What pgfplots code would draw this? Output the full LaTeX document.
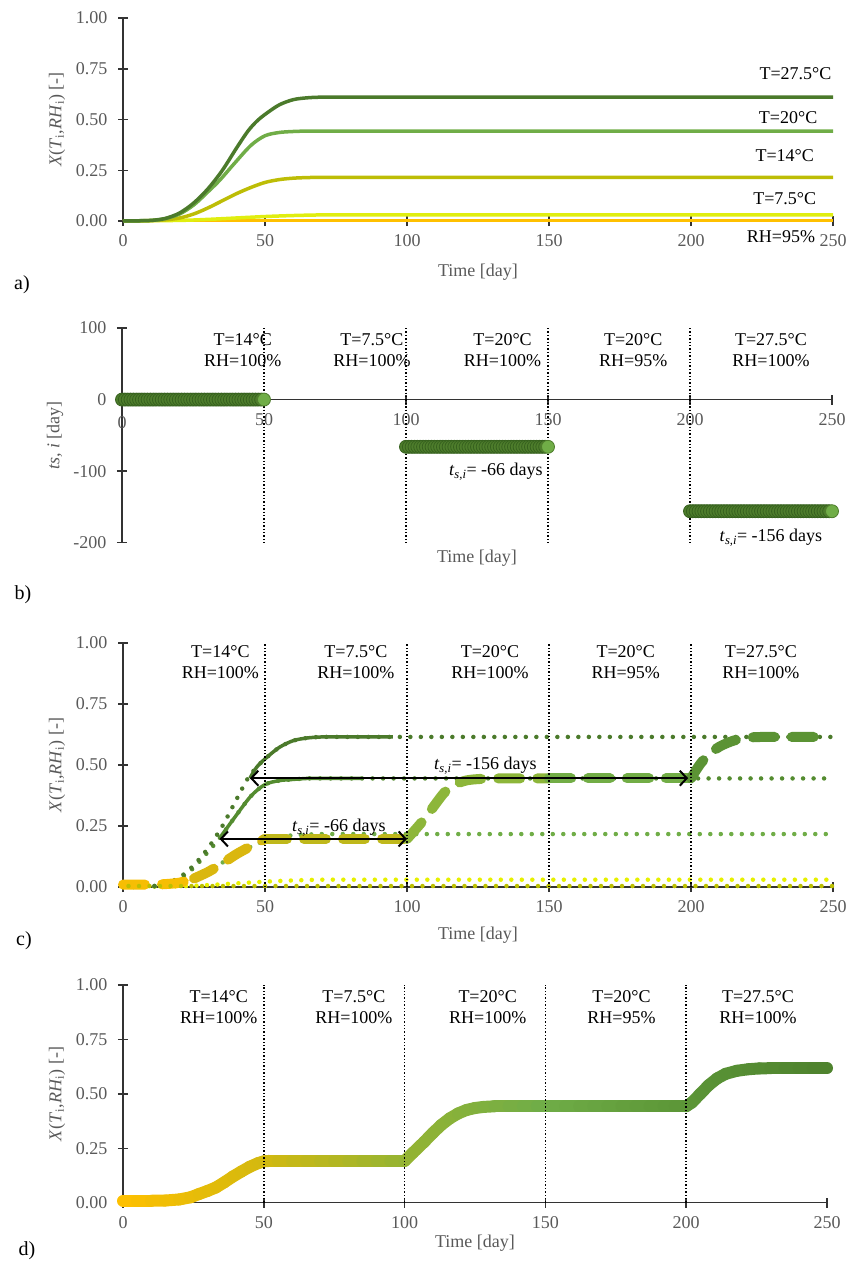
\documentclass[border=0pt]{standalone}
\usepackage{fontspec}
\setmainfont{Liberation Serif}
\usepackage{pgfplots}
\pgfplotsset{compat=1.18}
\usetikzlibrary{arrows.meta}
\definecolor{dkg}{HTML}{4B7A2B}
\definecolor{mdg}{HTML}{548C30}
\definecolor{mg}{HTML}{70AD47}
\definecolor{olv}{HTML}{BDBD06}
\definecolor{olv2}{HTML}{BCC000}
\definecolor{ylw}{HTML}{E0EE10}
\definecolor{ylw2}{HTML}{E6F000}
\definecolor{org}{HTML}{FFC000}
\definecolor{tickc}{HTML}{595959}
\definecolor{axl}{HTML}{333333}
\definecolor{mkf}{HTML}{4E7D2C}
\definecolor{mkd}{HTML}{36611E}
\definecolor{dA}{HTML}{F6BE04}
\definecolor{dB}{HTML}{DAB70F}
\definecolor{dC}{HTML}{BFB81B}
\definecolor{dD}{HTML}{8DB63A}
\definecolor{dE}{HTML}{72AD46}
\definecolor{dF}{HTML}{5B9334}
\newcommand{\fs}{\fontsize{18}{21}\selectfont}
\pgfplotsset{
  panel/.style={
    scale only axis, clip=false,
    axis x line=bottom, axis y line=left,
    axis line style={-, axl, line width=1.5pt},
    tick style={axl, line width=1.5pt},
    major tick length=10pt, tick align=center,
    xmin=0, xmax=250, xtick={0,50,100,150,200,250},
    /pgf/number format/assume math mode=true,
    tick label style={color=tickc, font=\fs},
    xticklabel style={yshift=-5pt},
    yticklabel style={xshift=-7pt},
    label style={color=tickc, font=\fs},
    xlabel={Time [day]},
  },
  xpanel/.style={
    ymin=0, ymax=1, ytick={0,0.25,0.5,0.75,1},
    yticklabel style={/pgf/number format/.cd, fixed, fixed zerofill, precision=2},
    ylabel={\textit{X}(\textit{T}\textsubscript{i},\textit{RH}\textsubscript{i}) [-]},
  },
  dotl/.style={line width=4.5pt, line cap=round, dash pattern=on 0pt off 10.5pt},
  vdot/.style={black, line width=1.6pt, dash pattern=on 1.4pt off 2pt},
  thd/.style={line width=10pt, line cap=round, dash pattern=on 22pt off 17pt},
  arr/.style={black, line width=2pt, {Straight Barb[length=7pt,width=15pt,line width=2pt]}-{Straight Barb[length=7pt,width=15pt,line width=2pt]}},
}
\begin{document}
\begin{tikzpicture}[font=\fs]
\path[use as bounding box] (0pt,0pt) rectangle (848pt,-1266pt);

% ---------------- a)
\begin{axis}[panel, xpanel, at={(123pt,-221pt)}, anchor=south west,
  width=710pt, height=203pt,
  xlabel style={at={(axis description cs:0.5,-0.251)}, anchor=center},
  ylabel style={at={(axis description cs:-0.093,0.5)}, anchor=center}]
\addplot[org, line width=3.5pt] coordinates {(0,0.002) (250,0.002)};
\addplot[ylw, line width=3.5pt, smooth] coordinates {(0,0) (20,0.003) (30,0.008) (40,0.015) (50,0.022) (60,0.027) (70,0.03) (80,0.03) (100,0.03) (125,0.03) (150,0.03) (175,0.03) (200,0.03) (225,0.03) (250,0.03)};
\addplot[olv, line width=3.5pt, smooth] coordinates {(0,0) (10,0.002) (15,0.006) (20,0.015) (25,0.035) (30,0.065) (35,0.1) (40,0.135) (45,0.165) (50,0.19) (55,0.204) (60,0.211) (65,0.214) (70,0.215) (80,0.215) (90,0.215) (100,0.215) (125,0.215) (150,0.215) (175,0.215) (200,0.215) (225,0.215) (250,0.215)};
\addplot[mg, line width=3.5pt, smooth] coordinates {(0,0) (10,0.003) (15,0.012) (20,0.035) (25,0.08) (30,0.145) (34,0.2) (39,0.28) (45,0.372) (50,0.42) (55,0.436) (60,0.441) (65,0.443) (70,0.443) (80,0.443) (90,0.443) (100,0.443) (125,0.443) (150,0.443) (175,0.443) (200,0.443) (225,0.443) (250,0.443)};
\addplot[dkg, line width=3.5pt, smooth] coordinates {(0,0) (5,0.001) (10,0.003) (15,0.013) (20,0.04) (25,0.09) (30,0.16) (35,0.25) (40,0.36) (44,0.443) (47,0.49) (50,0.525) (55,0.572) (60,0.598) (65,0.607) (70,0.61) (80,0.61) (90,0.61) (100,0.61) (125,0.61) (150,0.61) (175,0.61) (200,0.61) (225,0.61) (250,0.61)};
\node[anchor=east, inner sep=0pt] at (axis cs:249.5,0.724) {T=27.5°C};
\node at (axis cs:234.2,0.507) {T=20°C};
\node at (axis cs:233,0.32) {T=14°C};
\node at (axis cs:233,0.108) {T=7.5°C};
\node at (axis cs:231.7,-0.079) {RH=95\%};
\end{axis}
\node[font=\fontsize{20}{24}\selectfont] at (22pt,-285pt) {a)};

% ---------------- b)
\begin{axis}[panel, at={(122pt,-542.7pt)}, anchor=south west,
  width=710pt, height=214.7pt,
  axis x line=middle, axis y line=left,
  x axis line style={-}, y axis line style={-},
  every inner x axis line/.append style={-},
  ymin=-200, ymax=100, ytick={-200,-100,0,100},
  ylabel={\textit{ts, i} [day]},
  xlabel style={at={(axis description cs:0.5,-0.0713)}, anchor=center, color=tickc},
  ylabel style={at={(axis description cs:-0.0944,0.5)}, anchor=center, color=tickc}]
\addplot[only marks, mark=*, mark size=6.5pt, mark options={fill=mkf, draw=mkd, line width=0.8pt}] coordinates {
(0,0)(1,0)(2,0)(3,0)(4,0)(5,0)(6,0)(7,0)(8,0)(9,0)(10,0)(11,0)(12,0)(13,0)(14,0)(15,0)(16,0)(17,0)(18,0)(19,0)(20,0)(21,0)(22,0)(23,0)(24,0)(25,0)(26,0)(27,0)(28,0)(29,0)(30,0)(31,0)(32,0)(33,0)(34,0)(35,0)(36,0)(37,0)(38,0)(39,0)(40,0)(41,0)(42,0)(43,0)(44,0)(45,0)(46,0)(47,0)(48,0)(49,0)};
\addplot[only marks, mark=*, mark size=6.5pt, mark options={fill=mkf, draw=mkd, line width=0.8pt}] coordinates {
(100,-66)(101,-66)(102,-66)(103,-66)(104,-66)(105,-66)(106,-66)(107,-66)(108,-66)(109,-66)(110,-66)(111,-66)(112,-66)(113,-66)(114,-66)(115,-66)(116,-66)(117,-66)(118,-66)(119,-66)(120,-66)(121,-66)(122,-66)(123,-66)(124,-66)(125,-66)(126,-66)(127,-66)(128,-66)(129,-66)(130,-66)(131,-66)(132,-66)(133,-66)(134,-66)(135,-66)(136,-66)(137,-66)(138,-66)(139,-66)(140,-66)(141,-66)(142,-66)(143,-66)(144,-66)(145,-66)(146,-66)(147,-66)(148,-66)(149,-66)};
\addplot[only marks, mark=*, mark size=6.5pt, mark options={fill=mkf, draw=mkd, line width=0.8pt}] coordinates {
(200,-156)(201,-156)(202,-156)(203,-156)(204,-156)(205,-156)(206,-156)(207,-156)(208,-156)(209,-156)(210,-156)(211,-156)(212,-156)(213,-156)(214,-156)(215,-156)(216,-156)(217,-156)(218,-156)(219,-156)(220,-156)(221,-156)(222,-156)(223,-156)(224,-156)(225,-156)(226,-156)(227,-156)(228,-156)(229,-156)(230,-156)(231,-156)(232,-156)(233,-156)(234,-156)(235,-156)(236,-156)(237,-156)(238,-156)(239,-156)(240,-156)(241,-156)(242,-156)(243,-156)(244,-156)(245,-156)(246,-156)(247,-156)(248,-156)(249,-156)};
\addplot[only marks, mark=*, mark size=6.5pt, mark options={fill=mg, draw=mkf, line width=0.8pt}] coordinates {(50,0) (150,-66) (250,-156)};
\addplot[vdot] coordinates {(50,100) (50,-200)};
\addplot[vdot] coordinates {(100,100) (100,-200)};
\addplot[vdot] coordinates {(150,100) (150,-200)};
\addplot[vdot] coordinates {(200,100) (200,-200)};
\node[align=center, black] at (axis cs:42.5,68.5) {T=14°C\\RH=100\%};
\node[align=center, black] at (axis cs:88,68.5) {T=7.5°C\\RH=100\%};
\node[align=center, black] at (axis cs:134,68.5) {T=20°C\\RH=100\%};
\node[align=center, black] at (axis cs:180,68.5) {T=20°C\\RH=95\%};
\node[align=center, black] at (axis cs:228.5,68.5) {T=27.5°C\\RH=100\%};
\node[anchor=east, inner sep=0pt] at (axis cs:148.2,-100.7) {\textit{t}\textsubscript{\textit{s,i}}= -66 days};
\node at (axis cs:228.5,-193) {\textit{t}\textsubscript{\textit{s,i}}= -156 days};
\end{axis}
\node[color=tickc] at (122pt,-423pt) {0};
\node[font=\fontsize{20}{24}\selectfont] at (23pt,-595pt) {b)};

% ---------------- c)
\begin{axis}[panel, xpanel, at={(123pt,-887pt)}, anchor=south west,
  width=710pt, height=244pt,
  xlabel style={at={(axis description cs:0.5,-0.197)}, anchor=center},
  ylabel style={at={(axis description cs:-0.093,0.5)}, anchor=center}]
\addplot[ylw2, dotl, smooth] coordinates {(0,0) (20,0.003) (30,0.008) (40,0.015) (50,0.022) (60,0.027) (70,0.03) (80,0.03) (100,0.03) (125,0.03) (150,0.03) (175,0.03) (200,0.03) (225,0.03) (250,0.03)};
\addplot[mg, dotl, smooth] coordinates {(0,0) (10,0.002) (15,0.006) (20,0.015) (25,0.035) (30,0.065) (35,0.1) (40,0.135) (45,0.165) (50,0.19) (55,0.205) (60,0.212) (65,0.215) (70,0.217) (80,0.217) (90,0.217) (100,0.217) (125,0.217) (150,0.217) (175,0.217) (200,0.217) (225,0.217) (250,0.217)};
\addplot[mdg, dotl, smooth] coordinates {(0,0) (10,0.003) (15,0.012) (20,0.035) (25,0.08) (30,0.145) (34,0.2) (39,0.28) (45,0.372) (50,0.42) (55,0.436) (60,0.441) (65,0.445) (70,0.445) (80,0.445) (90,0.445) (100,0.445) (125,0.445) (150,0.445) (175,0.445) (200,0.445) (225,0.445) (250,0.445)};
\addplot[dkg, dotl, smooth] coordinates {(0,0) (5,0.001) (10,0.003) (15,0.013) (20,0.04) (25,0.09) (30,0.16) (35,0.25) (40,0.36) (44,0.446) (47,0.49) (50,0.525) (55,0.572) (60,0.6) (65,0.611) (70,0.615) (80,0.615) (90,0.615) (100,0.615) (125,0.615) (150,0.615) (175,0.615) (200,0.615) (225,0.615) (250,0.615)};
\addplot[mdg, line width=3.5pt, smooth] coordinates {(34,0.2) (39,0.28) (45,0.372) (50,0.42) (55,0.436) (60,0.441) (65,0.445) (70,0.445) (77,0.445) (84,0.445)};
\addplot[dkg, line width=3.5pt, smooth] coordinates {(44.7,0.446) (47,0.49) (50,0.525) (55,0.572) (60,0.6) (65,0.611) (70,0.615) (75,0.615) (80,0.615) (88,0.615) (95,0.615)};
% combined curve
\addplot[dA, thd, smooth] coordinates {(0,0.01) (10,0.01) (15,0.012) (20,0.018) (25,0.035)};
\addplot[dB, thd, smooth] coordinates {(25,0.035) (30,0.062) (35,0.097) (40,0.135) (45,0.167) (50,0.197)};
\addplot[dC, thd] coordinates {(50,0.197) (100,0.197)};
\addplot[dD, thd, smooth] coordinates {(100,0.197) (106,0.277) (113,0.385) (117,0.42) (121,0.437) (126,0.443) (132,0.445) (141,0.445) (150,0.445)};
\addplot[dE, thd] coordinates {(150,0.445) (200,0.445)};
\addplot[dF, thd, smooth] coordinates {(200,0.445) (203,0.5) (206,0.54) (210,0.575) (215,0.6) (220,0.612) (225,0.615) (230,0.615) (237,0.615) (245,0.615)};
\addplot[olv2, line width=4.5pt, line cap=round, dash pattern=on 0pt off 10.5pt, dash phase=5pt] coordinates {(0,0.004) (250,0.004)};
\addplot[vdot] coordinates {(50,0) (50,1)};
\addplot[vdot] coordinates {(100,0) (100,1)};
\addplot[vdot] coordinates {(150,0) (150,1)};
\addplot[vdot] coordinates {(200,0) (200,1)};
\addplot[arr] coordinates {(34,0.197) (100,0.197)};
\addplot[arr] coordinates {(44.7,0.446) (199,0.446)};
\node[black] at (axis cs:76,0.242) {\textit{t}\textsubscript{\textit{s,i}}= -66 days};
\node[black] at (axis cs:127.6,0.497) {\textit{t}\textsubscript{\textit{s,i}}= -156 days};
\node[align=center, black] at (axis cs:34.3,0.92) {T=14°C\\RH=100\%};
\node[align=center, black] at (axis cs:82,0.92) {T=7.5°C\\RH=100\%};
\node[align=center, black] at (axis cs:129.2,0.92) {T=20°C\\RH=100\%};
\node[align=center, black] at (axis cs:177,0.92) {T=20°C\\RH=95\%};
\node[align=center, black] at (axis cs:224.6,0.92) {T=27.5°C\\RH=100\%};
\end{axis}
\node[font=\fontsize{20}{24}\selectfont] at (24pt,-941pt) {c)};

% ---------------- d)
\begin{axis}[panel, xpanel, at={(123pt,-1202.7pt)}, anchor=south west,
  width=704pt, height=217.7pt,
  xlabel style={at={(axis description cs:0.5,-0.184)}, anchor=center},
  ylabel style={at={(axis description cs:-0.0937,0.5)}, anchor=center},
  colormap={grad}{rgb255(0pt)=(255,192,0); rgb255(50pt)=(212,185,15); rgb255(100pt)=(150,180,50); rgb255(150pt)=(112,173,71); rgb255(200pt)=(92,150,55); rgb255(250pt)=(78,130,46)},
  point meta min=0, point meta max=250]
\addplot[mesh, point meta=x, line width=12pt, line cap=round] coordinates {
(0,0.009) (5,0.009) (10,0.009) (15,0.01) (20,0.015) (24,0.025) (27,0.04) (30,0.054) (33,0.07) (36,0.094) (39,0.12) (42,0.143) (45,0.165) (48,0.182) (50,0.19) (52,0.192)
(55,0.192) (60,0.192) (65,0.192) (70,0.192) (75,0.192) (80,0.192) (85,0.192) (90,0.192) (95,0.192) (100,0.192)
(103,0.23) (107,0.28) (110,0.32) (113,0.357) (116,0.387) (119,0.41) (122,0.426) (125,0.435) (128,0.44) (132,0.443)
(137,0.443) (142,0.443) (147,0.443) (152,0.443) (157,0.443) (162,0.443) (167,0.443) (172,0.443) (177,0.443) (182,0.443) (187,0.443) (192,0.443) (196,0.443) (200,0.443)
(202,0.46) (205,0.5) (208,0.54) (211,0.571) (214,0.592) (218,0.606) (222,0.613) (226,0.617) (230,0.618) (235,0.618) (240,0.618) (245,0.618) (250,0.618)};
\addplot[vdot] coordinates {(50,0) (50,1)};
\addplot[vdot] coordinates {(100,0) (100,1)};
\addplot[vdot] coordinates {(150,0) (150,1)};
\addplot[vdot] coordinates {(200,0) (200,1)};
\node[align=center, black] at (axis cs:34,0.9) {T=14°C\\RH=100\%};
\node[align=center, black] at (axis cs:82,0.9) {T=7.5°C\\RH=100\%};
\node[align=center, black] at (axis cs:129.5,0.9) {T=20°C\\RH=100\%};
\node[align=center, black] at (axis cs:177,0.9) {T=20°C\\RH=95\%};
\node[align=center, black] at (axis cs:225.5,0.9) {T=27.5°C\\RH=100\%};
\end{axis}
\node[font=\fontsize{20}{24}\selectfont] at (27pt,-1251pt) {d)};
\end{tikzpicture}
\end{document}
